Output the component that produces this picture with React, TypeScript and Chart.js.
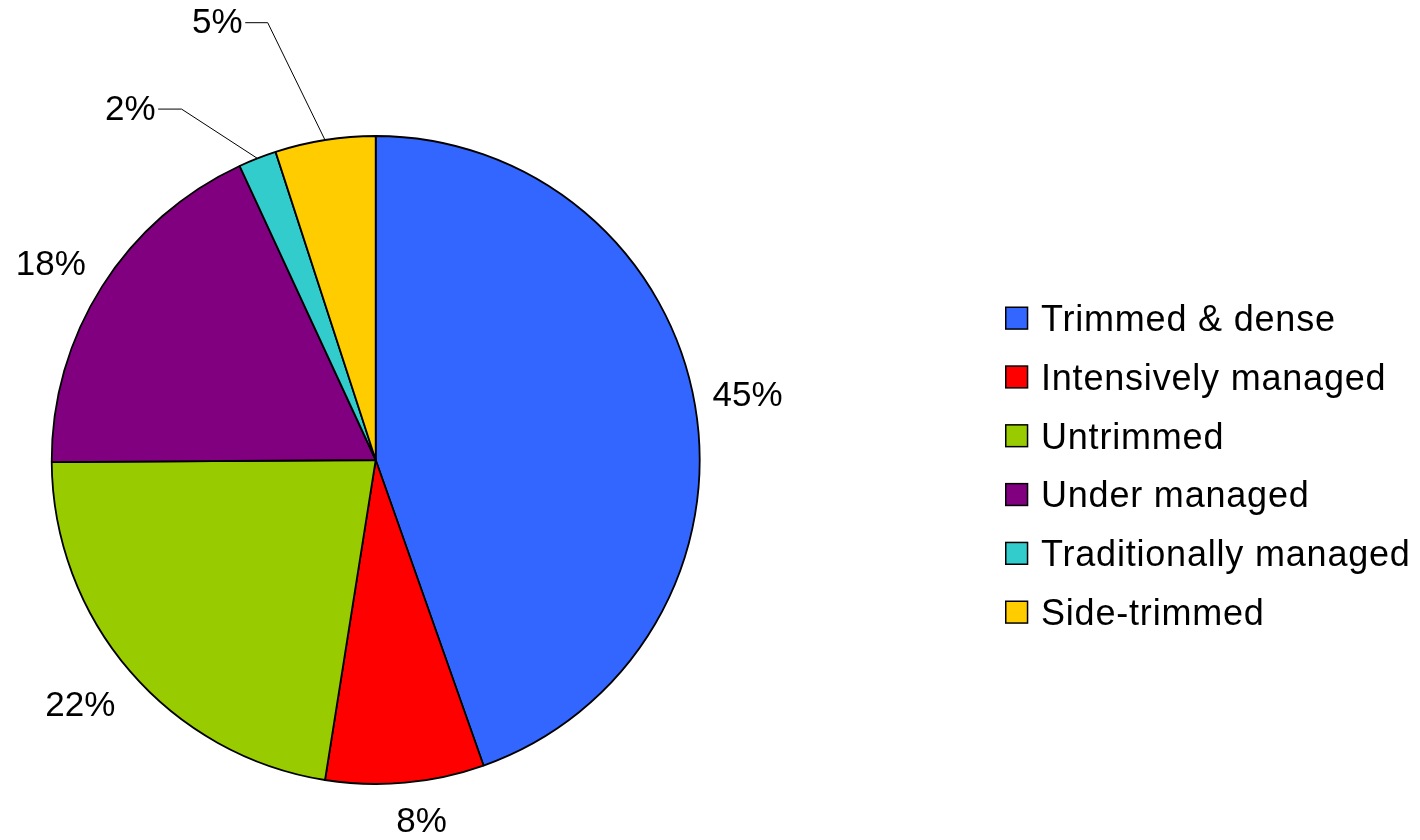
import React, { useEffect, useRef } from "react";
import { Chart, registerables } from "chart.js";

Chart.register(...registerables);

const categories = [
  "Trimmed & dense",
  "Intensively managed",
  "Untrimmed",
  "Under managed",
  "Traditionally managed",
  "Side-trimmed",
];
const shares = [44.6, 7.9, 22.4, 18.2, 1.9, 5.0];
const sliceColors = ["#3366FF", "#FF0000", "#99CC00", "#800080", "#33CCCC", "#FFCC00"];

const FONT = '"Liberation Sans", Arial, Helvetica, sans-serif';

const pieLabels = {
  id: "pieLabels",
  afterDatasetsDraw(chart: any, _args: any, opts: any) {
    const ctx = chart.ctx as CanvasRenderingContext2D;
    const meta = chart.getDatasetMeta(0);
    const data = chart.data.datasets[0].data as number[];
    const total = data.reduce((a, b) => a + b, 0);
    ctx.save();
    ctx.font = `${opts.fontSize}px ${FONT}`;
    ctx.textAlign = "center";
    ctx.textBaseline = "middle";
    meta.data.forEach((arc: any, i: number) => {
      const p = arc.getProps(["x", "y", "startAngle", "endAngle", "outerRadius"], true);
      const mid = (p.startAngle + p.endAngle) / 2;
      const px = p.x + Math.cos(mid) * p.outerRadius;
      const py = p.y + Math.sin(mid) * p.outerRadius;
      const off = opts.offsets[i];
      const tx = px + off[0];
      const ty = py + off[1];
      const text = Math.round((data[i] * 100) / total + 1e-9) + "%";
      const elbow = opts.leaders[i];
      if (elbow) {
        const w = ctx.measureText(text).width;
        ctx.beginPath();
        ctx.moveTo(px, py);
        ctx.lineTo(px + elbow[0], py + elbow[1]);
        ctx.lineTo(tx + w / 2 + 2.5, py + elbow[1]);
        ctx.strokeStyle = "#000";
        ctx.lineWidth = 1;
        ctx.stroke();
      }
      ctx.fillStyle = "#000";
      ctx.fillText(text, tx, ty);
    });
    ctx.restore();
  },
};

const sideLegend = {
  id: "sideLegend",
  afterDraw(chart: any, _args: any, opts: any) {
    const ctx = chart.ctx as CanvasRenderingContext2D;
    const labels = chart.data.labels as string[];
    const colors = chart.data.datasets[0].backgroundColor as string[];
    ctx.save();
    ctx.font = `${opts.fontSize}px ${FONT}`;
    (ctx as any).letterSpacing = opts.letterSpacing;
    ctx.textAlign = "left";
    ctx.textBaseline = "alphabetic";
    labels.forEach((lab, i) => {
      const top = opts.top + i * opts.rowGap;
      ctx.fillStyle = colors[i];
      ctx.fillRect(opts.left + 0.75, top + 0.75, opts.box - 1.5, opts.box - 1.5);
      ctx.strokeStyle = "#000";
      ctx.lineWidth = 1.5;
      ctx.strokeRect(opts.left + 0.75, top + 0.75, opts.box - 1.5, opts.box - 1.5);
      ctx.fillStyle = "#000";
      ctx.fillText(lab, opts.textX, top + opts.box + 1.2);
    });
    ctx.restore();
  },
};

export default function App() {
  const ref = useRef<HTMLCanvasElement | null>(null);
  useEffect(() => {
    if (!ref.current) return;
    const chart = new Chart(ref.current, {
      type: "pie",
      data: {
        labels: categories,
        datasets: [
          {
            data: shares,
            backgroundColor: sliceColors,
            borderColor: "#000000",
            borderWidth: 1.8,
          },
        ],
      },
      options: {
        responsive: false,
        animation: false,
        radius: 324,
        layout: { padding: { left: 51.7, right: 720.3, top: 136, bottom: 56 } },
        plugins: {
          legend: { display: false },
          tooltip: { enabled: false },
          pieLabels: {
            fontSize: 35,
            offsets: [
              [52.5, -8.5],
              [16.3, 39.9],
              [-49.6, 35.2],
              [-51.3, -21.4],
              [-127, -48.3],
              [-107.6, -116.6],
            ],
            leaders: [null, null, null, null, [-75.8, -49.3], [-57.3, -117.3]],
          },
          sideLegend: {
            fontSize: 36,
            letterSpacing: "0.8px",
            left: 1005,
            top: 306.5,
            rowGap: 58.8,
            box: 23.3,
            textX: 1041,
          },
        } as any,
      },
      plugins: [pieLabels, sideLegend],
    });
    return () => chart.destroy();
  }, []);
  return (
    <div style={{ position: "absolute", left: 0, top: 0, width: 1420, height: 840, background: "#fff" }}>
      <canvas ref={ref} width={1420} height={840} style={{ display: "block" }} />
    </div>
  );
}
